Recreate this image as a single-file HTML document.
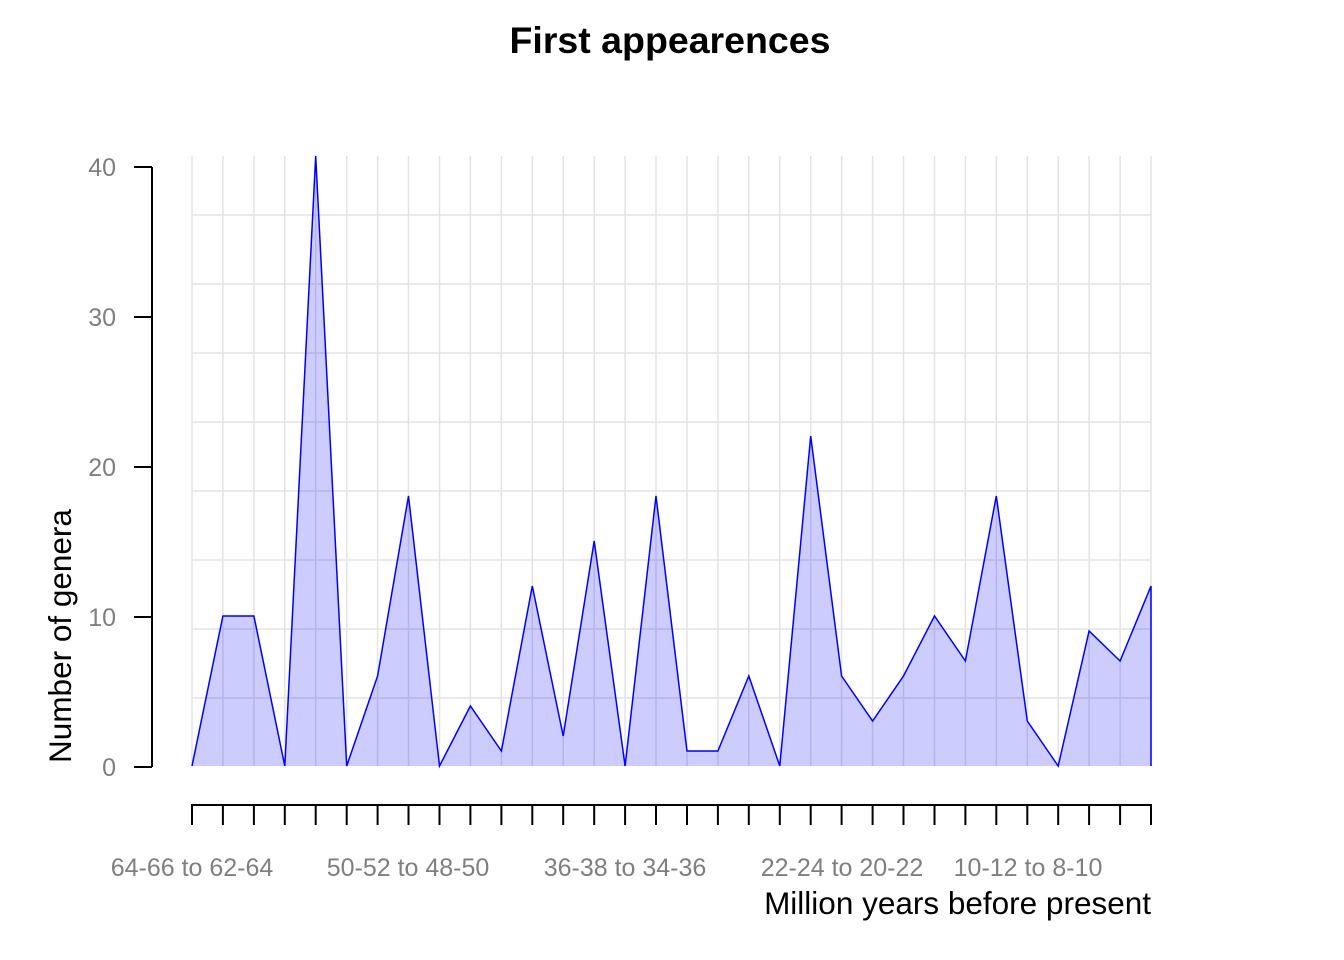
<!DOCTYPE html>
<html><head><meta charset="utf-8"><style>body{margin:0;background:#fff}svg{display:block}</style></head><body>
<svg width="1344" height="960" xmlns="http://www.w3.org/2000/svg" font-family="Liberation Sans, sans-serif">
<text x="670" y="53" text-anchor="middle" font-size="37.5" font-weight="bold">First appearences</text>
<g stroke="#e3e3e3" stroke-width="1.5">
<line x1="192" y1="215" x2="1151" y2="215"/><line x1="192" y1="284" x2="1151" y2="284"/><line x1="192" y1="353" x2="1151" y2="353"/><line x1="192" y1="422" x2="1151" y2="422"/><line x1="192" y1="491" x2="1151" y2="491"/><line x1="192" y1="560" x2="1151" y2="560"/><line x1="192" y1="629" x2="1151" y2="629"/><line x1="192" y1="698" x2="1151" y2="698"/>
<path d="M192 156V766M222.9 156V766M253.9 156V766M284.8 156V766M315.7 156V766M346.7 156V766M377.6 156V766M408.5 156V766M439.5 156V766M470.4 156V766M501.4 156V766M532.3 156V766M563.2 156V766M594.2 156V766M625.1 156V766M656 156V766M687 156V766M717.9 156V766M748.8 156V766M779.8 156V766M810.7 156V766M841.6 156V766M872.6 156V766M903.5 156V766M934.5 156V766M965.4 156V766M996.3 156V766M1027.3 156V766M1058.2 156V766M1089.1 156V766M1120.1 156V766M1151 156V766"/>
</g>
<polygon fill="#0000ff" fill-opacity="0.2" points="192,766 222.9,616 253.9,616 284.8,766 315.7,156 346.7,766 377.6,676 408.5,496 439.5,766 470.4,706 501.4,751 532.3,586 563.2,736 594.2,541 625.1,766 656,496 687,751 717.9,751 748.8,676 779.8,766 810.7,436 841.6,676 872.6,721 903.5,676 934.5,616 965.4,661 996.3,496 1027.3,721 1058.2,766 1089.1,631 1120.1,661 1151,586 1151,766"/>
<polyline fill="none" stroke="#0000ff" stroke-width="1.5" points="192,766 222.9,616 253.9,616 284.8,766 315.7,156 346.7,766 377.6,676 408.5,496 439.5,766 470.4,706 501.4,751 532.3,586 563.2,736 594.2,541 625.1,766 656,496 687,751 717.9,751 748.8,676 779.8,766 810.7,436 841.6,676 872.6,721 903.5,676 934.5,616 965.4,661 996.3,496 1027.3,721 1058.2,766 1089.1,631 1120.1,661 1151,586 1151,766"/>
<g stroke="#000" stroke-width="2" fill="none">
<line x1="152" y1="167" x2="152" y2="767"/>
<path d="M134 167H152M134 317H152M134 467H152M134 617H152M134 767H152"/>
<line x1="191" y1="805" x2="1152" y2="805"/>
<path d="M192 805V825M222.9 805V825M253.9 805V825M284.8 805V825M315.7 805V825M346.7 805V825M377.6 805V825M408.5 805V825M439.5 805V825M470.4 805V825M501.4 805V825M532.3 805V825M563.2 805V825M594.2 805V825M625.1 805V825M656 805V825M687 805V825M717.9 805V825M748.8 805V825M779.8 805V825M810.7 805V825M841.6 805V825M872.6 805V825M903.5 805V825M934.5 805V825M965.4 805V825M996.3 805V825M1027.3 805V825M1058.2 805V825M1089.1 805V825M1120.1 805V825M1151 805V825"/>
</g>
<g fill="#7f7f7f" font-size="25" text-anchor="end">
<text x="116" y="176">40</text><text x="116" y="326">30</text><text x="116" y="476">20</text><text x="116" y="626">10</text><text x="116" y="776">0</text>
</g>
<g fill="#7f7f7f" font-size="25" text-anchor="middle">
<text x="192" y="876">64-66 to 62-64</text><text x="408" y="876">50-52 to 48-50</text><text x="625" y="876">36-38 to 34-36</text><text x="842" y="876">22-24 to 20-22</text><text x="1028" y="876">10-12 to 8-10</text>
</g>
<text x="1151" y="914" text-anchor="end" font-size="31.5">Million years before present</text>
<text transform="translate(71,636) rotate(-90)" text-anchor="middle" font-size="31.5">Number of genera</text>
</svg>
</body></html>
